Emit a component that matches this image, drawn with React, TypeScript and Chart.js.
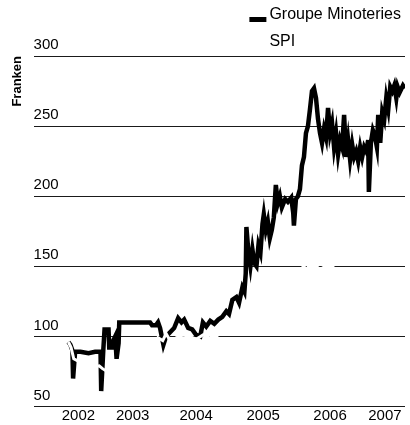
import { useEffect, useRef } from "react";
import { Chart, registerables } from "chart.js";

Chart.register(...registerables);

const FONT = "'Liberation Sans', Arial, sans-serif";

const seriesLabels = ["Groupe Minoteries", "SPI"];

const minoteriesYears = [
  2002.09, 2002.12, 2002.15, 2002.16, 2002.19, 2002.27, 2002.39, 2002.49, 2002.57, 2002.58,
  2002.61, 2002.63, 2002.69, 2002.70, 2002.75, 2002.76, 2002.79, 2002.81, 2002.84, 2002.85,
  2003.31, 2003.34, 2003.40, 2003.43, 2003.46, 2003.51, 2003.55, 2003.61, 2003.67, 2003.73,
  2003.78, 2003.82, 2003.88, 2003.94, 2004.00, 2004.06, 2004.10, 2004.15, 2004.21, 2004.27,
  2004.33, 2004.39, 2004.45, 2004.49, 2004.54, 2004.60, 2004.64, 2004.69, 2004.72, 2004.74,
  2004.75, 2004.78, 2004.81, 2004.84, 2004.87, 2004.90, 2004.93, 2004.96, 2004.99, 2005.01,
  2005.04, 2005.07, 2005.10, 2005.13, 2005.16, 2005.19, 2005.22, 2005.25, 2005.28, 2005.33,
  2005.37, 2005.42, 2005.45, 2005.46, 2005.49, 2005.52, 2005.55, 2005.58, 2005.61, 2005.64,
  2005.67, 2005.70, 2005.73, 2005.76, 2005.79, 2005.82, 2005.85, 2005.88, 2005.91, 2005.94,
  2005.97, 2006.00, 2006.03, 2006.06, 2006.09, 2006.12, 2006.15, 2006.18, 2006.21, 2006.24,
  2006.27, 2006.30, 2006.33, 2006.36, 2006.39, 2006.42, 2006.45, 2006.48, 2006.51, 2006.54,
  2006.57, 2006.58, 2006.61, 2006.64, 2006.67, 2006.70, 2006.72, 2006.75, 2006.78, 2006.81,
  2006.84, 2006.87, 2006.90, 2006.93, 2006.96, 2006.99, 2007.01, 2007.04, 2007.09, 2007.12,
];
const minoteriesValues = [
  96, 94, 90, 70, 89, 89, 88, 89, 89, 61,
  89, 105, 105, 92, 92, 97, 100, 84, 95, 110,
  110, 108, 108, 110, 106, 94, 100, 103, 106, 113,
  110, 112, 106, 105, 101, 100, 110, 107, 111, 109,
  112, 114, 118, 116, 126, 128, 124, 135, 132, 145,
  178, 160, 150, 162, 152, 150, 165, 160, 180, 187,
  176, 182, 170, 176, 185, 208, 195, 200, 192, 198,
  196, 199, 188, 179, 198, 200, 205, 222, 228, 245,
  250, 262, 275, 277, 270, 255, 245, 238, 248, 242,
  263, 245, 252, 235, 245, 230, 240, 235, 258, 228,
  240, 226, 237, 228, 232, 225, 235, 228, 235, 232,
  240, 203, 238, 247, 243, 235, 258, 238, 260, 255,
  270, 262, 278, 275, 279, 270, 278, 274, 279, 277,
];

const spiYears = [
  2002.09, 2002.13, 2002.17, 2002.25, 2002.35, 2002.45, 2002.55, 2002.60, 2002.70, 2002.80,
  2002.95, 2003.10, 2003.20, 2003.30, 2003.38, 2003.43, 2003.50, 2003.55, 2003.62, 2003.70,
  2003.80, 2003.90, 2004.00, 2004.10, 2004.20, 2004.30, 2004.40, 2004.55, 2004.70, 2004.85,
  2005.00, 2005.15, 2005.30, 2005.45, 2005.55, 2005.60, 2005.65, 2005.70, 2005.78, 2005.85,
  2005.92, 2006.00, 2006.06, 2006.12, 2006.25, 2006.40, 2006.50, 2006.60, 2006.75, 2006.90,
  2007.00, 2007.12,
];
const spiValues = [
  96, 92, 84, 82, 80, 78, 79, 77, 74, 70,
  68, 62, 60, 75, 90, 99, 97, 102, 96, 99,
  101, 100, 98, 101, 99, 100, 104, 108, 112, 116,
  120, 124, 130, 138, 146, 150, 148, 151, 149, 152,
  150, 149, 151, 156, 160, 165, 158, 162, 170, 175,
  180, 184,
];

const xTickYears = [2002.24, 2003.05, 2004.0, 2005.0, 2006.0, 2006.82];
const xTickLabels = ["2002", "2003", "2004", "2005", "2006", "2007"];
const yTickValues = [50, 100, 150, 200, 250, 300];

const stackedLegend = {
  id: "stackedLegend",
  afterDraw(chart: any) {
    const ctx = chart.ctx;
    ctx.save();
    ctx.font = `16px ${FONT}`;
    ctx.textBaseline = "middle";
    ctx.textAlign = "left";
    const widths = chart.data.datasets.map((d: any) => ctx.measureText(d.label).width);
    const maxW = Math.max(...widths);
    const textX = chart.chartArea.right - 4 - maxW;
    chart.data.datasets.forEach((d: any, i: number) => {
      const y = 15 + i * 27;
      ctx.fillStyle = d.borderColor;
      ctx.fillRect(textX - 20, y + 2, 17, 5);
      ctx.fillStyle = "#000";
      ctx.fillText(d.label, textX, y);
    });
    ctx.restore();
  },
};

export default function App() {
  const ref = useRef<HTMLCanvasElement | null>(null);

  useEffect(() => {
    if (!ref.current) return;
    const chart = new Chart(ref.current, {
      type: "line",
      data: {
        datasets: [
          {
            label: seriesLabels[0],
            data: minoteriesYears.map((x, i) => ({ x, y: minoteriesValues[i] })),
            borderColor: "#000000",
            backgroundColor: "#000000",
            borderWidth: 4.5,
            pointRadius: 0,
            tension: 0,
            order: 1,
          },
          {
            label: seriesLabels[1],
            data: spiYears.map((x, i) => ({ x, y: spiValues[i] })),
            borderColor: "#ffffff",
            backgroundColor: "#ffffff",
            borderWidth: 3,
            pointRadius: 0,
            tension: 0,
            order: 0,
          },
        ],
      },
      options: {
        responsive: false,
        animation: false,
        layout: { padding: { left: 4, right: 5, top: 56, bottom: 0 } },
        plugins: {
          legend: { display: false },
          tooltip: { enabled: false },
        },
        scales: {
          x: {
            type: "linear",
            min: 2001.57,
            max: 2007.12,
            afterBuildTicks: (scale: any) => {
              scale.ticks = xTickYears.map((v) => ({ value: v }));
            },
            ticks: {
              autoSkip: false,
              maxRotation: 0,
              padding: 1,
              color: "#000",
              font: { family: FONT, size: 15, lineHeight: 1.1 },
              callback: (v: any) => {
                const i = xTickYears.indexOf(Number(v));
                return i >= 0 ? xTickLabels[i] : "";
              },
            },
            grid: { display: false, drawTicks: false },
            border: { display: false },
          },
          y: {
            type: "linear",
            min: 50,
            max: 300,
            afterBuildTicks: (scale: any) => {
              scale.ticks = yTickValues.map((v) => ({ value: v }));
            },
            ticks: {
              mirror: true,
              padding: 0,
              labelOffset: -11,
              color: "#000",
              font: { family: FONT, size: 15 },
            },
            grid: { color: "#1a1a1a", lineWidth: 1, drawTicks: false },
            border: { display: false },
            title: {
              display: true,
              text: "Franken",
              align: "end",
              color: "#000",
              font: { family: FONT, size: 13, weight: "bold" },
              padding: { top: 6, bottom: 8 },
            },
          },
        },
      },
      plugins: [stackedLegend],
    });
    return () => chart.destroy();
  }, []);

  return (
    <div style={{ position: "fixed", left: 0, top: 0, width: 410, height: 425, background: "#fff" }}>
      <canvas ref={ref} width={410} height={425} />
    </div>
  );
}
